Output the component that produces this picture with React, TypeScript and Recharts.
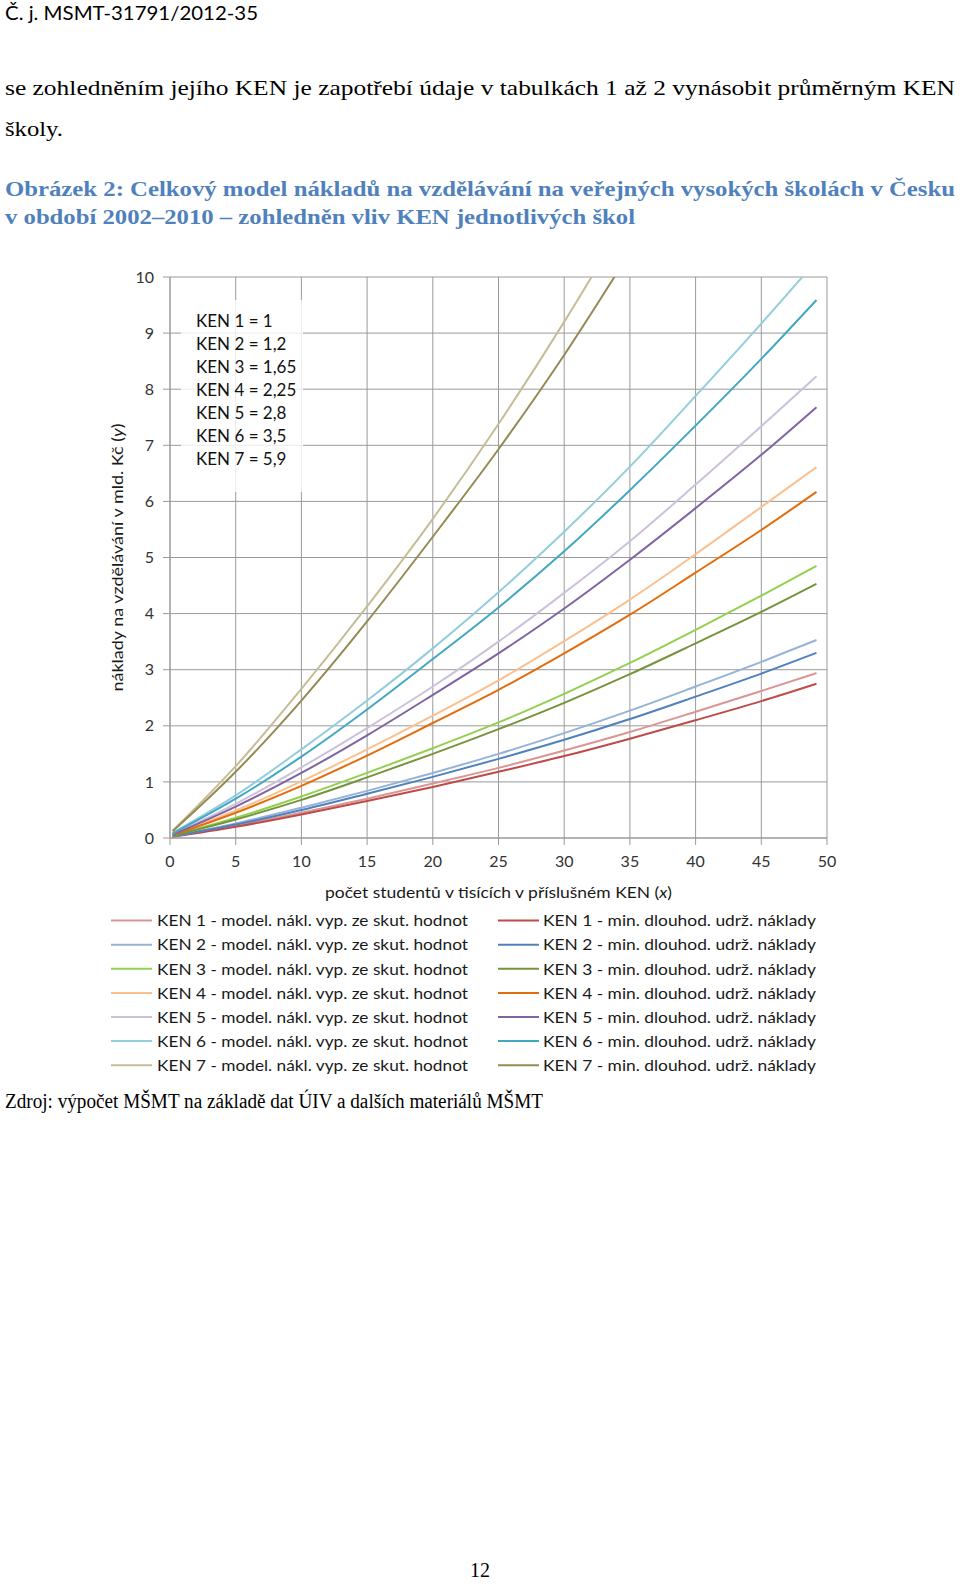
import React from 'react';
import { LineChart, Line, XAxis, YAxis, CartesianGrid, Legend } from 'recharts';

// počet studentů v tisících (x)
const students = [0.2, 5, 10, 15, 20, 25, 30, 35, 40, 45, 49.2];

// model. nákl. vyp. ze skut. hodnot (mld. Kč)
const ken1Model = [0.03, 0.22, 0.45, 0.7, 0.97, 1.25, 1.56, 1.89, 2.25, 2.62, 2.94];
const ken2Model = [0.03, 0.26, 0.54, 0.84, 1.16, 1.5, 1.87, 2.27, 2.7, 3.14, 3.53];
const ken3Model = [0.04, 0.36, 0.74, 1.16, 1.6, 2.06, 2.57, 3.12, 3.71, 4.32, 4.85];
const ken4Model = [0.06, 0.49, 1.01, 1.58, 2.18, 2.81, 3.51, 4.25, 5.06, 5.9, 6.61];
const ken5Model = [0.07, 0.61, 1.26, 1.96, 2.7, 3.5, 4.37, 5.29, 6.3, 7.34, 8.23];
const ken6Model = [0.09, 0.76, 1.58, 2.45, 3.38, 4.38, 5.46, 6.62, 7.88, 9.17, 10.29];
const ken7Model = [0.13, 1.28, 2.66, 4.13, 5.69, 7.38, 9.2, 11.15, null, null, null];

// min. dlouhod. udrž. náklady (mld. Kč)
const ken1Min = [0.02, 0.2, 0.42, 0.66, 0.91, 1.18, 1.46, 1.77, 2.1, 2.44, 2.75];
const ken2Min = [0.03, 0.24, 0.5, 0.79, 1.09, 1.41, 1.75, 2.12, 2.52, 2.93, 3.3];
const ken3Min = [0.04, 0.33, 0.68, 1.08, 1.5, 1.94, 2.41, 2.92, 3.47, 4.03, 4.53];
const ken4Min = [0.05, 0.45, 0.93, 1.47, 2.05, 2.64, 3.29, 3.98, 4.73, 5.49, 6.17];
const ken5Min = [0.06, 0.56, 1.16, 1.83, 2.55, 3.29, 4.09, 4.96, 5.88, 6.83, 7.68];
const ken6Min = [0.08, 0.7, 1.45, 2.29, 3.19, 4.11, 5.11, 6.2, 7.35, 8.54, 9.59];
const ken7Min = [0.12, 1.18, 2.45, 3.86, 5.37, 6.93, 8.61, 10.44, null, null, null];

const kenNames = ['KEN 1', 'KEN 2', 'KEN 3', 'KEN 4', 'KEN 5', 'KEN 6', 'KEN 7'];
const kenCoefs = ['1', '1,2', '1,65', '2,25', '2,8', '3,5', '5,9'];

const xTicks = [0, 5, 10, 15, 20, 25, 30, 35, 40, 45, 50];
const yTicks = [0, 1, 2, 3, 4, 5, 6, 7, 8, 9, 10];

const modelSeries = [ken1Model, ken2Model, ken3Model, ken4Model, ken5Model, ken6Model, ken7Model];
const minSeries = [ken1Min, ken2Min, ken3Min, ken4Min, ken5Min, ken6Min, ken7Min];

const modelColors = ['#D99694', '#95B3D7', '#92D050', '#FAC090', '#CCC1DA', '#93CDDD', '#C4BD97'];
const minColors = ['#BE4B48', '#4F81BD', '#77933C', '#E46C0A', '#8064A2', '#42A8C2', '#948A54'];

const data = students.map((x, i) => {
  const row: any = { x };
  modelSeries.forEach((s, k) => {
    row[`m${k + 1}`] = s[i];
  });
  minSeries.forEach((s, k) => {
    row[`n${k + 1}`] = s[i];
  });
  return row;
});

const GRID = '#9a9a9a';
const SANS = 'Lato, "Open Sans", sans-serif';
const SERIF = '"Liberation Serif", "DejaVu Serif", serif';

const LegendBox = ({ payload }: any) => {
  const items = payload || [];
  const left = items.filter((p) => String(p.value).includes('model.'));
  const right = items.filter((p) => String(p.value).includes('min.'));
  const rowY = (i) => 14.6 + i * 24.1;
  return (
    <svg width={960} height={175} style={{ display: 'block' }}>
      {left.map((p, i) => (
        <g key={`l-${i}`}>
          <line x1={111} x2={152} y1={rowY(i)} y2={rowY(i)} stroke={p.color} strokeWidth={2} />
          <text x={157} y={rowY(i)} dy="0.36em" fontFamily={SANS} fontSize={16} fill="#1a1a1a"
            textLength={311} lengthAdjust="spacingAndGlyphs">{p.value}</text>
        </g>
      ))}
      {right.map((p, i) => (
        <g key={`r-${i}`}>
          <line x1={498} x2={539} y1={rowY(i)} y2={rowY(i)} stroke={p.color} strokeWidth={2} />
          <text x={543} y={rowY(i)} dy="0.36em" fontFamily={SANS} fontSize={16} fill="#1a1a1a"
            textLength={273} lengthAdjust="spacingAndGlyphs">{p.value}</text>
        </g>
      ))}
    </svg>
  );
};

const XTitle = ({ viewBox }: any) => {
  const cx = viewBox.x + viewBox.width / 2;
  return (
    <text x={cx} y={viewBox.y + 60} textAnchor="middle" fontFamily={SANS} fontSize={16} fill="#1a1a1a"
      textLength={347} lengthAdjust="spacingAndGlyphs">
      počet studentů v tisících v příslušném KEN (<tspan fontStyle="italic">x</tspan>)
    </text>
  );
};

const YTitle = ({ viewBox }: any) => {
  const cx = 117;
  const cy = viewBox.y + viewBox.height / 2;
  return (
    <text x={cx} y={cy} dy="0.36em" textAnchor="middle" transform={`rotate(-90, ${cx}, ${cy})`}
      fontFamily={SANS} fontSize={16} fill="#1a1a1a" textLength={268} lengthAdjust="spacingAndGlyphs">
      náklady na vzdělávání v mld. Kč (<tspan fontStyle="italic">y</tspan>)
    </text>
  );
};

const lines = [];
for (let k = 0; k < 7; k++) {
  lines.push(
    <Line key={`m${k}`} type="monotone" dataKey={`m${k + 1}`} name={`${kenNames[k]} - model. nákl. vyp. ze skut. hodnot`}
      stroke={modelColors[k]} strokeWidth={2} dot={false} activeDot={false} isAnimationActive={false} />
  );
  lines.push(
    <Line key={`n${k}`} type="monotone" dataKey={`n${k + 1}`} name={`${kenNames[k]} - min. dlouhod. udrž. náklady`}
      stroke={minColors[k]} strokeWidth={2} dot={false} activeDot={false} isAnimationActive={false} />
  );
}

export default function App() {
  return (
    <div style={{ position: 'absolute', left: 0, top: 0, width: 960, height: 1584, background: '#fff', overflow: 'hidden' }}>
      <svg width={960} height={1584} style={{ position: 'absolute', left: 0, top: 0 }}>
        <text x={5} y={20} fontFamily={SANS} fontSize={19} fill="#000" textLength={253} lengthAdjust="spacingAndGlyphs">
          Č. j. MSMT-31791/2012-35
        </text>
        <text x={5} y={95} fontFamily={SERIF} fontSize={22} fill="#000" textLength={950} lengthAdjust="spacingAndGlyphs">
          se zohledněním jejího KEN je zapotřebí údaje v tabulkách 1 až 2 vynásobit průměrným KEN
        </text>
        <text x={5} y={136} fontFamily={SERIF} fontSize={22} fill="#000" textLength={58} lengthAdjust="spacingAndGlyphs">
          školy.
        </text>
        <text x={5} y={196} fontFamily={SERIF} fontWeight="bold" fontSize={22} fill="#4F81BD" textLength={950} lengthAdjust="spacingAndGlyphs">
          Obrázek 2: Celkový model nákladů na vzdělávání na veřejných vysokých školách v Česku
        </text>
        <text x={5} y={224} fontFamily={SERIF} fontWeight="bold" fontSize={22} fill="#4F81BD" textLength={630} lengthAdjust="spacingAndGlyphs">
          v období 2002–2010 – zohledněn vliv KEN jednotlivých škol
        </text>
        <text x={5} y={1108} fontFamily={SERIF} fontSize={20} fill="#000" textLength={538} lengthAdjust="spacingAndGlyphs">
          Zdroj: výpočet MŠMT na základě dat ÚIV a dalších materiálů MŠMT
        </text>
        <text x={480} y={1577} textAnchor="middle" fontFamily={SERIF} fontSize={20} fill="#000">
          12
        </text>
      </svg>

      <div style={{ position: 'absolute', left: 0, top: 0 }}>
        <LineChart width={960} height={1100} data={data} margin={{ top: 277, right: 133, bottom: 192, left: 0 }}>
          <CartesianGrid stroke={GRID} strokeWidth={1} />
          <XAxis type="number" dataKey="x" domain={[0, 50]} ticks={xTicks} interval={0} allowDataOverflow
            height={70} tickSize={7} tickMargin={11} stroke={GRID}
            tick={{ fill: '#333', fontSize: 16, fontFamily: SANS }} label={{ content: XTitle }} />
          <YAxis type="number" domain={[0, 10]} ticks={yTicks} interval={0} allowDataOverflow
            width={170} tickSize={7} tickMargin={9} stroke={GRID}
            tick={{ fill: '#333', fontSize: 16, fontFamily: SANS }} label={{ content: YTitle }} />
          {lines}
          <Legend verticalAlign="middle" layout="horizontal" align="center" content={LegendBox}
            wrapperStyle={{ left: 0, top: 906, width: 960, height: 175 }} />
        </LineChart>
      </div>

      <div style={{ position: 'absolute', left: 181, top: 300, width: 122, height: 192, background: 'rgba(255,255,255,0.8)' }}>
        {kenNames.map((n, i) => (
          <div key={n} style={{ position: 'absolute', left: 15, top: 8.5 + i * 23.1, fontFamily: SANS, fontSize: 17, lineHeight: '24px', color: '#111', whiteSpace: 'nowrap' }}>
            {n} = {kenCoefs[i]}
          </div>
        ))}
      </div>
    </div>
  );
}
